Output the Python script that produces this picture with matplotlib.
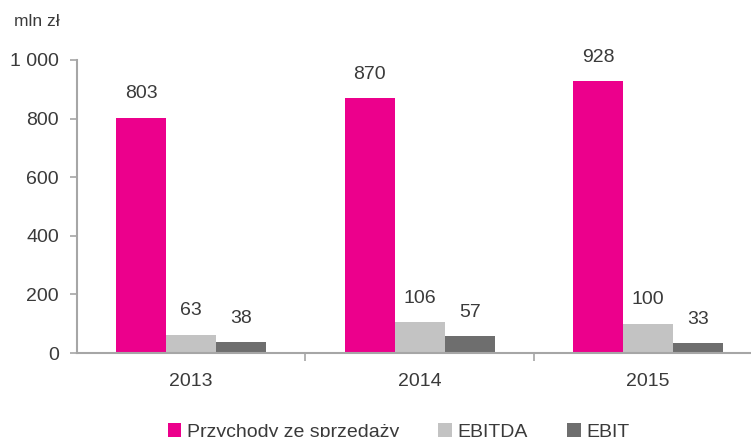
import matplotlib.pyplot as plt
import numpy as np

years = ["2013", "2014", "2015"]
przychody = [803, 870, 928]
ebitda = [63, 106, 100]
ebit = [38, 57, 33]
series_names = ["Przychody ze sprzedaży", "EBITDA", "EBIT"]
colors = ["#EC008C", "#C3C3C3", "#6E6E6E"]

plt.rcParams['font.family'] = ['Liberation Sans', 'DejaVu Sans']
txt = "#3A3A3A"
axc = "#A6A6A6"

fig = plt.figure(figsize=(7.51, 4.37), dpi=100)
ax = fig.add_axes([0.1025, 0.192, 0.8975, 0.671])

x = np.arange(len(years))
w = 0.219
for i, (vals, name, c) in enumerate(zip([przychody, ebitda, ebit], series_names, colors)):
    pos = x + (i - 1) * w
    ax.bar(pos, vals, w, color=c, label=name)
    for p, v in zip(pos, vals):
        ax.annotate(str(v), (p, v), xytext=(0, 11), textcoords="offset points",
                    ha="center", va="bottom", fontsize=14, color=txt)

ax.set_ylim(0, 1000)
ax.set_xlim(-0.5, 2.45)
ax.set_yticks(range(0, 1001, 200))
ax.set_yticklabels(["0", "200", "400", "600", "800", "1 000"])
ax.set_xticks(x)
ax.set_xticklabels(years)
ax.set_xticks([0.5, 1.5], minor=True)
ax.tick_params(axis="x", which="major", length=0, pad=14, labelsize=14, labelcolor=txt)
ax.tick_params(axis="x", which="minor", length=6, color=axc, width=1.2)
ax.tick_params(axis="y", length=5, color=axc, width=1.2, pad=8, labelsize=14, labelcolor=txt)

for s in ["top", "right"]:
    ax.spines[s].set_visible(False)
for s in ["left", "bottom"]:
    ax.spines[s].set_color(axc)
    ax.spines[s].set_linewidth(1.5)

fig.text(0.019, 0.95, "mln zł", fontsize=12.5, color=txt, va="center")

fig.legend(loc="center", bbox_to_anchor=(0.531, 0.012), ncol=3, frameon=False,
           fontsize=14, handlelength=0.7, handleheight=0.7, handletextpad=0.3,
           columnspacing=2.0, labelcolor=txt)

fig.savefig("out.png", dpi=100)
